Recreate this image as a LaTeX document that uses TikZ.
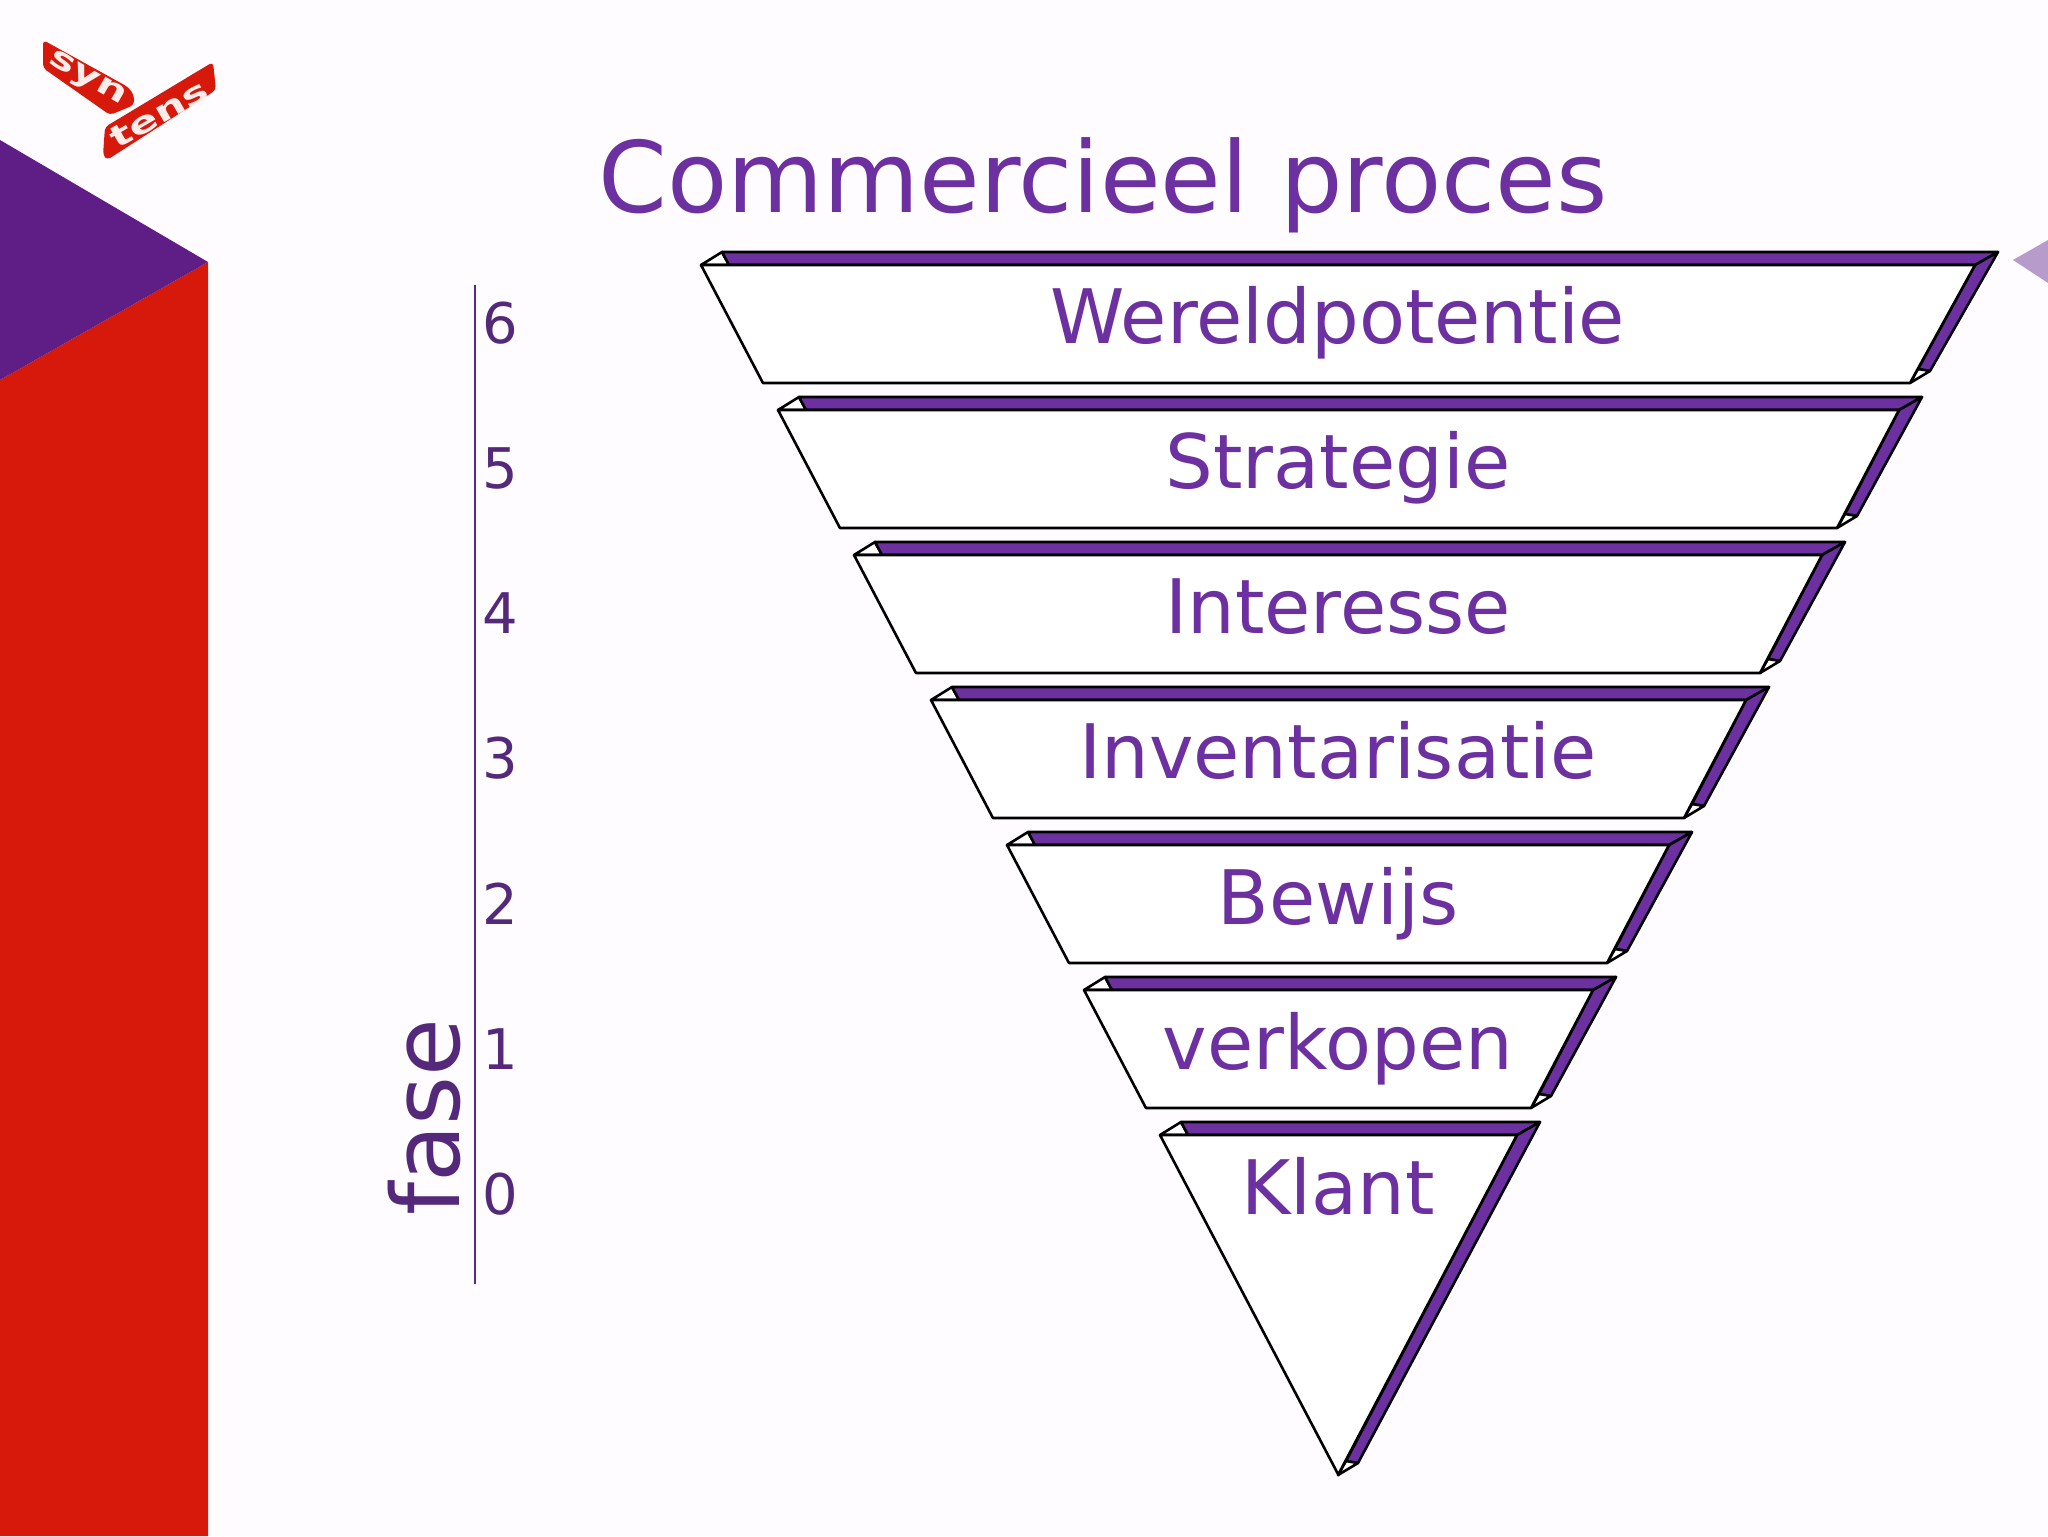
\documentclass[tikz,border=0pt]{standalone}
\usepackage{fontspec}
\setmainfont{DejaVu Sans}
\usetikzlibrary{matrix}

\definecolor{paper}{HTML}{FEFCFE}
\definecolor{barred}{HTML}{D6190A}
\definecolor{barpurple}{HTML}{5F1E85}
\definecolor{tippurple}{HTML}{B79CCB}
\definecolor{textpurple}{HTML}{6C30A0}
\definecolor{darkpurple}{HTML}{55297A}

\tikzset{
  outline/.style={draw=black, line width=1.3pt, line join=round},
  stripfill/.style={outline, fill=textpurple},
  panelfill/.style={outline, fill=white},
  logoband/.style={fill=barred, rounded corners=2pt},
  logotext/.style={text=white!92!barred, inner sep=0pt, font=\bfseries\fontsize{15}{15}\selectfont},
  pics/layer/.style n args={3}{code={
    \path[panelfill] (0,0) -- (21,-13) -- (28,0) -- cycle;
    \path[stripfill] (21,-13) -- ({#1+23},-13) -- (#1,0) -- (28,0) -- cycle;
    \path[stripfill] (#1,0) -- ({#1+23},-13) -- ({#1-#3+20},{#2-12}) -- ({#1-#3+8},{#2-14}) -- cycle;
    \path[panelfill] ({#1-#3},#2) -- ({#1-#3+8},{#2-14}) -- ({#1-#3+20},{#2-12}) -- cycle;
    \path[panelfill] (0,0) -- (#1,0) -- ({#1-#3},#2) -- ({.525*#2},#2) -- cycle;
  }}
}

\begin{document}
\begin{tikzpicture}[x=.5pt, y=-.5pt]
\useasboundingbox (0,0) rectangle (2048,1536);
\fill[paper] (0,0) rectangle (2048,1536);

% side bar
\fill[barred] (0,380) -- (208,262) -- (208,1536) -- (0,1536) -- cycle;
\fill[barpurple] (0,140) -- (208,262) -- (0,380) -- cycle;
\fill[tippurple] (2013,260) -- (2048,240) -- (2048,283) -- cycle;

% logo
\fill[logoband] (43,40) -- (128,87) -- (134,95) -- (134,105) -- (110,115) -- (43,68) -- cycle;
\fill[logoband] (105,127) -- (213,62) -- (216,90) -- (107,160) -- (103,155) -- cycle;
\node[logotext, rotate=-30] (syn) at (87,79) {\scalebox{1.45}[1]{syn}};
\node[logotext, rotate=30] (tens) at (159,114) {\scalebox{1.45}[1]{tens}};

\node[text=textpurple, font=\fontsize{49.3}{49.3}\selectfont, anchor=base] (title) at (1103,212) {Commercieel proces};

% funnel
\pic at (701,265) {layer={1274}{118}{65}};
\pic at (778,410) {layer={1121}{118}{62}};
\pic at (854,555) {layer={968}{118}{62}};
\pic at (931,700) {layer={815}{118}{62}};
\pic at (1007,845) {layer={662}{118}{62}};
\pic at (1084,990) {layer={509}{118}{62}};
\pic at (1160,1135) {layer={357}{340}{179}};

\matrix[matrix of nodes, row sep=0pt,
nodes={inner sep=0pt, text height=50pt, text depth=22.65pt, text=textpurple, font=\fontsize{37.6}{37.6}\selectfont}
] (phases) at (1338,751.6) {
Wereldpotentie \\
Strategie \\
Interesse \\
Inventarisatie \\
Bewijs \\
verkopen \\
Klant \\};

\matrix[matrix of nodes, row sep=0pt,
nodes={inner sep=0pt, text height=50pt, text depth=22.65pt, text=darkpurple, font=\fontsize{28}{28}\selectfont}
] (fases) at (500,751.6) {
6 \\
5 \\
4 \\
3 \\
2 \\
1 \\
0 \\};

\draw[textpurple!85!black, line width=1pt] (475,285) -- (475,1284);
\node[text=darkpurple, rotate=90, anchor=base, font=\fontsize{47}{47}\selectfont] (fase) at (459,1117) {fase};
\end{tikzpicture}
\end{document}
